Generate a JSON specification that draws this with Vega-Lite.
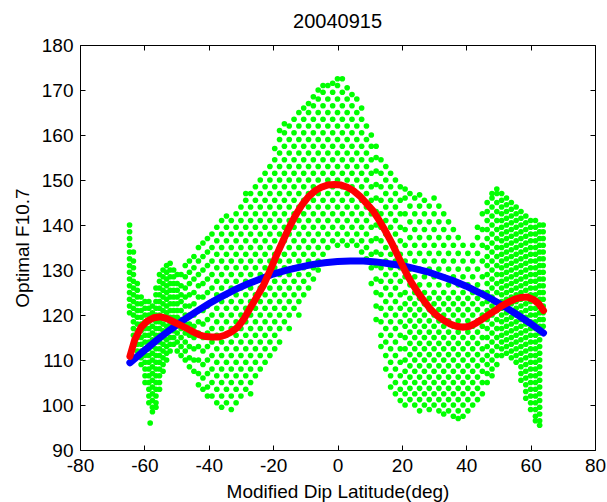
{
"$schema":"https://vega.github.io/schema/vega-lite/v6.json",
"width":515,"height":405,
"autosize":{"type":"none"},
"padding":{"left":80,"top":45,"right":12,"bottom":52},
"background":"white",
"title":{"text":"20040915","fontSize":20,"font":"Liberation Sans","fontWeight":"normal","color":"black","baseline":"alphabetic","offset":-12},
"config":{"view":{"stroke":null},
"axis":{"labelFont":"Liberation Sans","titleFont":"Liberation Sans","labelFontSize":19,"titleFontSize":19,"titleFontWeight":"normal","labelColor":"#000","titleColor":"#000","domainColor":"#000","tickColor":"#000","tickSize":-5,"grid":false,"labelFlush":false,"labelOverlap":false,"labelExpr":"'' + datum.value"}},
"datasets":{
"blue":[{"x":-64.5,"y":109.4},{"x":-60,"y":112.1},{"x":-56,"y":114.5},{"x":-52,"y":116.7},{"x":-48,"y":118.8},{"x":-44,"y":120.7},{"x":-40,"y":122.5},{"x":-36,"y":124.1},{"x":-32,"y":125.6},{"x":-28,"y":126.9},{"x":-24,"y":128.0},{"x":-20,"y":129.1},{"x":-16,"y":129.9},{"x":-12,"y":130.6},{"x":-8,"y":131.2},{"x":-4,"y":131.6},{"x":0,"y":131.9},{"x":4,"y":132.0},{"x":8,"y":132.0},{"x":12,"y":131.8},{"x":16,"y":131.4},{"x":20,"y":131.0},{"x":24,"y":130.3},{"x":28,"y":129.6},{"x":32,"y":128.6},{"x":36,"y":127.6},{"x":40,"y":126.4},{"x":44,"y":125.0},{"x":48,"y":123.5},{"x":52,"y":121.8},{"x":56,"y":120.0},{"x":60,"y":118.1},{"x":64,"y":116.0}],
"red":[{"x":-64.5,"y":110.8},{"x":-63,"y":114.5},{"x":-61,"y":117.3},{"x":-59,"y":118.7},{"x":-57,"y":119.4},{"x":-55,"y":119.6},{"x":-53,"y":119.2},{"x":-51,"y":118.5},{"x":-49,"y":117.8},{"x":-47,"y":117.1},{"x":-45,"y":116.3},{"x":-43,"y":115.6},{"x":-41,"y":115.2},{"x":-39,"y":115.1},{"x":-37,"y":115.1},{"x":-35,"y":115.5},{"x":-33,"y":116.2},{"x":-31,"y":117.3},{"x":-29,"y":119.2},{"x":-27,"y":121.7},{"x":-25,"y":124.1},{"x":-23,"y":126.6},{"x":-21,"y":129.8},{"x":-19,"y":133.2},{"x":-17,"y":136.4},{"x":-15,"y":139.5},{"x":-13,"y":142.2},{"x":-11,"y":144.5},{"x":-9,"y":146.3},{"x":-7,"y":147.6},{"x":-5,"y":148.4},{"x":-3,"y":148.9},{"x":-1,"y":149.0},{"x":1,"y":148.9},{"x":3,"y":148.4},{"x":5,"y":147.6},{"x":7,"y":146.4},{"x":9,"y":144.8},{"x":11,"y":143.2},{"x":13,"y":141.0},{"x":15,"y":138.5},{"x":17,"y":135.8},{"x":19,"y":132.8},{"x":21,"y":129.8},{"x":23,"y":127.2},{"x":25,"y":125.0},{"x":27,"y":123.0},{"x":29,"y":121.2},{"x":31,"y":119.8},{"x":33,"y":118.8},{"x":35,"y":118.0},{"x":37,"y":117.5},{"x":39,"y":117.3},{"x":41,"y":117.5},{"x":43,"y":118.2},{"x":45,"y":119.1},{"x":47,"y":120.1},{"x":49,"y":121.0},{"x":51,"y":122.0},{"x":53,"y":122.8},{"x":55,"y":123.5},{"x":57,"y":123.9},{"x":59,"y":124.0},{"x":61,"y":123.4},{"x":62.5,"y":122.5},{"x":64,"y":121.0}],
"pts":[
{"x":-64.6,"y":140},{"x":-64.6,"y":138.5},{"x":-64.6,"y":137},{"x":-64.6,"y":135.5},{"x":-64.6,"y":134},{"x":-64.6,"y":132.5},{"x":-64.6,"y":131},{"x":-64.6,"y":129.5},{"x":-64.6,"y":128},{"x":-64.6,"y":126.5},{"x":-64.6,"y":125},{"x":-64.6,"y":123.5},{"x":-64.6,"y":122},{"x":-64.6,"y":120.5},
{"x":-63.4,"y":134},{"x":-63.4,"y":132},{"x":-63.4,"y":130.5},{"x":-63.4,"y":129},{"x":-63.4,"y":127.5},{"x":-63.4,"y":126},{"x":-63.4,"y":124.5},{"x":-63.4,"y":123},{"x":-63.4,"y":121.5},{"x":-63.4,"y":120},{"x":-63.4,"y":118.5},{"x":-63.4,"y":117},{"x":-63.4,"y":115.5},
{"x":-62.2,"y":127},{"x":-62.2,"y":125.5},{"x":-62.2,"y":124},{"x":-62.2,"y":122.5},{"x":-62.2,"y":121},{"x":-62.2,"y":119.5},{"x":-62.2,"y":118},{"x":-62.2,"y":116.5},{"x":-62.2,"y":115},{"x":-62.2,"y":113.5},{"x":-62.2,"y":112},
{"x":-61,"y":124},{"x":-61,"y":122.5},{"x":-61,"y":121},{"x":-61,"y":119.5},{"x":-61,"y":118},{"x":-61,"y":116.5},{"x":-61,"y":115},{"x":-61,"y":113.5},{"x":-61,"y":112},{"x":-61,"y":110.5},{"x":-61,"y":109},
{"x":-59.8,"y":123},{"x":-59.8,"y":121.5},{"x":-59.8,"y":120},{"x":-59.8,"y":118.5},{"x":-59.8,"y":117},{"x":-59.8,"y":115.5},{"x":-59.8,"y":114},{"x":-59.8,"y":112.5},{"x":-59.8,"y":111},{"x":-59.8,"y":109.5},{"x":-59.8,"y":108},{"x":-59.8,"y":106.5},{"x":-59.8,"y":105},
{"x":-58.6,"y":123},{"x":-58.6,"y":121.5},{"x":-58.6,"y":120},{"x":-58.6,"y":118.5},{"x":-58.6,"y":117},{"x":-58.6,"y":115.5},{"x":-58.6,"y":114},{"x":-58.6,"y":112.5},{"x":-58.6,"y":111},{"x":-58.6,"y":109.5},{"x":-58.6,"y":108},{"x":-58.6,"y":106.5},{"x":-58.6,"y":105},{"x":-58.6,"y":103.5},{"x":-58.6,"y":102},{"x":-58.6,"y":100.5},
{"x":-57.5,"y":122},{"x":-57.5,"y":120.5},{"x":-57.5,"y":119},{"x":-57.5,"y":117.5},{"x":-57.5,"y":116},{"x":-57.5,"y":114.5},{"x":-57.5,"y":113},{"x":-57.5,"y":111.5},{"x":-57.5,"y":110},{"x":-57.5,"y":108.5},{"x":-57.5,"y":107},{"x":-57.5,"y":105.5},{"x":-57.5,"y":104},{"x":-57.5,"y":102.5},{"x":-57.5,"y":101},{"x":-57.5,"y":99.5},{"x":-57.5,"y":98.5},{"x":-58.2,"y":96},
{"x":-56.4,"y":126},{"x":-56.4,"y":124.5},{"x":-56.4,"y":123},{"x":-56.4,"y":121.5},{"x":-56.4,"y":120},{"x":-56.4,"y":118.5},{"x":-56.4,"y":117},{"x":-56.4,"y":115.5},{"x":-56.4,"y":114},{"x":-56.4,"y":112.5},{"x":-56.4,"y":111},{"x":-56.4,"y":109.5},{"x":-56.4,"y":108},{"x":-56.4,"y":106.5},{"x":-56.4,"y":105},{"x":-56.4,"y":103.5},{"x":-56.4,"y":102},{"x":-56.4,"y":100.5},{"x":-56.4,"y":99.5},
{"x":-55.3,"y":129},{"x":-55.3,"y":127.5},{"x":-55.3,"y":126},{"x":-55.3,"y":124.5},{"x":-55.3,"y":123},{"x":-55.3,"y":121.5},{"x":-55.3,"y":120},{"x":-55.3,"y":118.5},{"x":-55.3,"y":117},{"x":-55.3,"y":115.5},{"x":-55.3,"y":114},{"x":-55.3,"y":112.5},{"x":-55.3,"y":111},{"x":-55.3,"y":109.5},{"x":-55.3,"y":108},{"x":-55.3,"y":106.5},{"x":-55.3,"y":105},{"x":-55.3,"y":103.5},
{"x":-54.2,"y":130},{"x":-54.2,"y":128.5},{"x":-54.2,"y":127},{"x":-54.2,"y":125.5},{"x":-54.2,"y":124},{"x":-54.2,"y":122.5},{"x":-54.2,"y":121},{"x":-54.2,"y":119.5},{"x":-54.2,"y":118},{"x":-54.2,"y":116.5},{"x":-54.2,"y":115},{"x":-54.2,"y":113.5},{"x":-54.2,"y":112},{"x":-54.2,"y":110.5},{"x":-54.2,"y":109},{"x":-54.2,"y":107.5},
{"x":-53.1,"y":131},{"x":-53.1,"y":129.5},{"x":-53.1,"y":128},{"x":-53.1,"y":126.5},{"x":-53.1,"y":125},{"x":-53.1,"y":123.5},{"x":-53.1,"y":122},{"x":-53.1,"y":120.5},{"x":-53.1,"y":119},{"x":-53.1,"y":117.5},{"x":-53.1,"y":116},{"x":-53.1,"y":114.5},{"x":-53.1,"y":113},{"x":-53.1,"y":111.5},{"x":-53.1,"y":110},
{"x":-52,"y":131.5},{"x":-52,"y":130},{"x":-52,"y":128.5},{"x":-52,"y":127},{"x":-52,"y":125.5},{"x":-52,"y":124},{"x":-52,"y":122.5},{"x":-52,"y":121},{"x":-52,"y":119.5},{"x":-52,"y":118},{"x":-52,"y":116.5},{"x":-52,"y":115},{"x":-52,"y":113.5},{"x":-52,"y":112},
{"x":-50.9,"y":130},{"x":-50.9,"y":128.5},{"x":-50.9,"y":127},{"x":-50.9,"y":125.5},{"x":-50.9,"y":124},{"x":-50.9,"y":122.5},{"x":-50.9,"y":121},{"x":-50.9,"y":119.5},{"x":-50.9,"y":118},{"x":-50.9,"y":116.5},{"x":-50.9,"y":115},{"x":-50.9,"y":113.5},
{"x":-49.8,"y":129},{"x":-49.8,"y":127},{"x":-49.8,"y":125.5},{"x":-49.8,"y":124},{"x":-49.8,"y":122.5},{"x":-49.8,"y":121},{"x":-49.8,"y":119.5},{"x":-49.8,"y":118},{"x":-49.8,"y":116},{"x":-49.8,"y":114},{"x":-49.8,"y":112},
{"x":-48.6,"y":129},{"x":-48.6,"y":126.5},{"x":-48.6,"y":124.5},{"x":-48.6,"y":123},{"x":-48.6,"y":121},{"x":-48.6,"y":119},{"x":-48.6,"y":117},{"x":-48.6,"y":115},{"x":-48.6,"y":113},{"x":-48.6,"y":111},
{"x":-47.3,"y":131},{"x":-47.3,"y":128.5},{"x":-47.3,"y":126},{"x":-47.3,"y":124},{"x":-47.3,"y":122},{"x":-47.3,"y":120},{"x":-47.3,"y":118},{"x":-47.3,"y":116},{"x":-47.3,"y":114},{"x":-47.3,"y":112},{"x":-47.3,"y":110},
{"x":-46,"y":132},{"x":-46,"y":129.5},{"x":-46,"y":127},{"x":-46,"y":124.5},{"x":-46,"y":122},{"x":-46,"y":120},{"x":-46,"y":118},{"x":-46,"y":115.5},{"x":-46,"y":113},{"x":-46,"y":110.5},{"x":-46,"y":108.5},
{"x":-44.6,"y":133},{"x":-44.6,"y":130.5},{"x":-44.6,"y":128},{"x":-44.6,"y":125},{"x":-44.6,"y":122.5},{"x":-44.6,"y":120},{"x":-44.6,"y":117.5},{"x":-44.6,"y":115},{"x":-44.6,"y":112.5},{"x":-44.6,"y":110},{"x":-44.6,"y":107.5},
{"x":-43.2,"y":135},{"x":-43.2,"y":132},{"x":-43.2,"y":129},{"x":-43.2,"y":126.5},{"x":-43.2,"y":124},{"x":-43.2,"y":121},{"x":-43.2,"y":118.5},{"x":-43.2,"y":116},{"x":-43.2,"y":113},{"x":-43.2,"y":110},{"x":-43.2,"y":107},{"x":-43.2,"y":104.5},
{"x":-41.8,"y":136},{"x":-41.8,"y":133},{"x":-41.8,"y":130},{"x":-41.8,"y":127},{"x":-41.8,"y":124},{"x":-41.8,"y":121},{"x":-41.8,"y":118},{"x":-41.8,"y":115},{"x":-41.8,"y":112},{"x":-41.8,"y":109},{"x":-41.8,"y":106},{"x":-41.8,"y":103.5},
{"x":-40.4,"y":137},{"x":-40.4,"y":134},{"x":-40.4,"y":131},{"x":-40.4,"y":128},{"x":-40.4,"y":125},{"x":-40.4,"y":122},{"x":-40.4,"y":119},{"x":-40.4,"y":116},{"x":-40.4,"y":113},{"x":-40.4,"y":110},{"x":-40.4,"y":107},{"x":-40.4,"y":104},{"x":-40.4,"y":102},
{"x":-39,"y":102},{"x":-39,"y":105},{"x":-39,"y":108},{"x":-39,"y":111},{"x":-39,"y":114},{"x":-39,"y":117},{"x":-39,"y":120},{"x":-39,"y":123},{"x":-39,"y":126},{"x":-39,"y":129},{"x":-39,"y":132},{"x":-39,"y":135},{"x":-39,"y":138},
{"x":-37.5,"y":100.5},{"x":-37.5,"y":103.5},{"x":-37.5,"y":106.5},{"x":-37.5,"y":109.5},{"x":-37.5,"y":112.5},{"x":-37.5,"y":115.5},{"x":-37.5,"y":118.5},{"x":-37.5,"y":121.5},{"x":-37.5,"y":124.5},{"x":-37.5,"y":127.5},{"x":-37.5,"y":130.5},{"x":-37.5,"y":133.5},{"x":-37.5,"y":136.5},{"x":-37.5,"y":139.5},
{"x":-36,"y":99.5},{"x":-36,"y":102},{"x":-36,"y":105},{"x":-36,"y":108},{"x":-36,"y":111},{"x":-36,"y":114},{"x":-36,"y":117},{"x":-36,"y":120},{"x":-36,"y":123},{"x":-36,"y":126},{"x":-36,"y":129},{"x":-36,"y":132},{"x":-36,"y":135},{"x":-36,"y":138},{"x":-36,"y":141},
{"x":-34.5,"y":100.5},{"x":-34.5,"y":103.5},{"x":-34.5,"y":106.5},{"x":-34.5,"y":109.5},{"x":-34.5,"y":112.5},{"x":-34.5,"y":115.5},{"x":-34.5,"y":118.5},{"x":-34.5,"y":121.5},{"x":-34.5,"y":124.5},{"x":-34.5,"y":127.5},{"x":-34.5,"y":130.5},{"x":-34.5,"y":133.5},{"x":-34.5,"y":136.5},{"x":-34.5,"y":139.5},{"x":-34.5,"y":142},
{"x":-33,"y":99},{"x":-33,"y":102},{"x":-33,"y":105},{"x":-33,"y":108},{"x":-33,"y":111},{"x":-33,"y":114},{"x":-33,"y":117},{"x":-33,"y":120},{"x":-33,"y":123},{"x":-33,"y":126},{"x":-33,"y":129},{"x":-33,"y":132},{"x":-33,"y":135},{"x":-33,"y":138},{"x":-33,"y":141},
{"x":-31.5,"y":100.5},{"x":-31.5,"y":103.5},{"x":-31.5,"y":106.5},{"x":-31.5,"y":109.5},{"x":-31.5,"y":112.5},{"x":-31.5,"y":115.5},{"x":-31.5,"y":118.5},{"x":-31.5,"y":121.5},{"x":-31.5,"y":124.5},{"x":-31.5,"y":127.5},{"x":-31.5,"y":130.5},{"x":-31.5,"y":133.5},{"x":-31.5,"y":136.5},{"x":-31.5,"y":139.5},{"x":-31.5,"y":142.5},
{"x":-30,"y":102},{"x":-30,"y":105},{"x":-30,"y":108},{"x":-30,"y":111},{"x":-30,"y":114},{"x":-30,"y":117},{"x":-30,"y":120},{"x":-30,"y":123},{"x":-30,"y":126},{"x":-30,"y":129},{"x":-30,"y":132},{"x":-30,"y":135},{"x":-30,"y":138},{"x":-30,"y":141},{"x":-30,"y":144},
{"x":-28.5,"y":103.5},{"x":-28.5,"y":106.5},{"x":-28.5,"y":109.5},{"x":-28.5,"y":112.5},{"x":-28.5,"y":115.5},{"x":-28.5,"y":118.5},{"x":-28.5,"y":121.5},{"x":-28.5,"y":124.5},{"x":-28.5,"y":127.5},{"x":-28.5,"y":130.5},{"x":-28.5,"y":133.5},{"x":-28.5,"y":136.5},{"x":-28.5,"y":139.5},{"x":-28.5,"y":142.5},{"x":-28.5,"y":145.5},{"x":-28.5,"y":147},
{"x":-27,"y":102.5},{"x":-27,"y":105},{"x":-27,"y":108},{"x":-27,"y":111},{"x":-27,"y":114},{"x":-27,"y":117},{"x":-27,"y":120},{"x":-27,"y":123},{"x":-27,"y":126},{"x":-27,"y":129},{"x":-27,"y":132},{"x":-27,"y":135},{"x":-27,"y":138},{"x":-27,"y":141},{"x":-27,"y":144},{"x":-27,"y":147},
{"x":-25.5,"y":106.5},{"x":-25.5,"y":109.5},{"x":-25.5,"y":112.5},{"x":-25.5,"y":115.5},{"x":-25.5,"y":118.5},{"x":-25.5,"y":121.5},{"x":-25.5,"y":124.5},{"x":-25.5,"y":127.5},{"x":-25.5,"y":130.5},{"x":-25.5,"y":133.5},{"x":-25.5,"y":136.5},{"x":-25.5,"y":139.5},{"x":-25.5,"y":142.5},{"x":-25.5,"y":145.5},{"x":-25.5,"y":148.5},
{"x":-24,"y":108},{"x":-24,"y":111},{"x":-24,"y":114},{"x":-24,"y":117},{"x":-24,"y":120},{"x":-24,"y":123},{"x":-24,"y":126},{"x":-24,"y":129},{"x":-24,"y":132},{"x":-24,"y":135},{"x":-24,"y":138},{"x":-24,"y":141},{"x":-24,"y":144},{"x":-24,"y":147},{"x":-24,"y":150},
{"x":-22.5,"y":109.5},{"x":-22.5,"y":112.5},{"x":-22.5,"y":115.5},{"x":-22.5,"y":118.5},{"x":-22.5,"y":121.5},{"x":-22.5,"y":124.5},{"x":-22.5,"y":127.5},{"x":-22.5,"y":130.5},{"x":-22.5,"y":133.5},{"x":-22.5,"y":136.5},{"x":-22.5,"y":139.5},{"x":-22.5,"y":142.5},{"x":-22.5,"y":145.5},{"x":-22.5,"y":148.5},{"x":-22.5,"y":151.5},
{"x":-21,"y":111},{"x":-21,"y":114},{"x":-21,"y":117},{"x":-21,"y":120},{"x":-21,"y":123},{"x":-21,"y":126},{"x":-21,"y":129},{"x":-21,"y":132},{"x":-21,"y":135},{"x":-21,"y":138},{"x":-21,"y":141},{"x":-21,"y":144},{"x":-21,"y":147},{"x":-21,"y":150},{"x":-21,"y":153},
{"x":-19.5,"y":112.5},{"x":-19.5,"y":115.5},{"x":-19.5,"y":118.5},{"x":-19.5,"y":121.5},{"x":-19.5,"y":124.5},{"x":-19.5,"y":127.5},{"x":-19.5,"y":130.5},{"x":-19.5,"y":133.5},{"x":-19.5,"y":136.5},{"x":-19.5,"y":139.5},{"x":-19.5,"y":142.5},{"x":-19.5,"y":145.5},{"x":-19.5,"y":148.5},{"x":-19.5,"y":151.5},{"x":-19.5,"y":154.5},{"x":-19.5,"y":157},
{"x":-18,"y":114},{"x":-18,"y":117},{"x":-18,"y":120},{"x":-18,"y":123},{"x":-18,"y":126},{"x":-18,"y":129},{"x":-18,"y":132},{"x":-18,"y":135},{"x":-18,"y":138},{"x":-18,"y":141},{"x":-18,"y":144},{"x":-18,"y":147},{"x":-18,"y":150},{"x":-18,"y":153},{"x":-18,"y":156},{"x":-18,"y":159},{"x":-18,"y":161},
{"x":-16.5,"y":118.5},{"x":-16.5,"y":121.5},{"x":-16.5,"y":124.5},{"x":-16.5,"y":127.5},{"x":-16.5,"y":130.5},{"x":-16.5,"y":133.5},{"x":-16.5,"y":136.5},{"x":-16.5,"y":139.5},{"x":-16.5,"y":142.5},{"x":-16.5,"y":145.5},{"x":-16.5,"y":148.5},{"x":-16.5,"y":151.5},{"x":-16.5,"y":154.5},{"x":-16.5,"y":157.5},{"x":-16.5,"y":160.5},{"x":-16.5,"y":162.5},
{"x":-15,"y":117},{"x":-15,"y":120},{"x":-15,"y":123},{"x":-15,"y":126},{"x":-15,"y":129},{"x":-15,"y":132},{"x":-15,"y":135},{"x":-15,"y":138},{"x":-15,"y":141},{"x":-15,"y":144},{"x":-15,"y":147},{"x":-15,"y":150},{"x":-15,"y":153},{"x":-15,"y":156},{"x":-15,"y":159},{"x":-15,"y":162},
{"x":-13.5,"y":121.5},{"x":-13.5,"y":124.5},{"x":-13.5,"y":127.5},{"x":-13.5,"y":130.5},{"x":-13.5,"y":133.5},{"x":-13.5,"y":136.5},{"x":-13.5,"y":139.5},{"x":-13.5,"y":142.5},{"x":-13.5,"y":145.5},{"x":-13.5,"y":148.5},{"x":-13.5,"y":151.5},{"x":-13.5,"y":154.5},{"x":-13.5,"y":157.5},{"x":-13.5,"y":160.5},{"x":-13.5,"y":163.5},
{"x":-12,"y":120},{"x":-12,"y":123},{"x":-12,"y":126},{"x":-12,"y":129},{"x":-12,"y":132},{"x":-12,"y":135},{"x":-12,"y":138},{"x":-12,"y":141},{"x":-12,"y":144},{"x":-12,"y":147},{"x":-12,"y":150},{"x":-12,"y":153},{"x":-12,"y":156},{"x":-12,"y":159},{"x":-12,"y":162},{"x":-12,"y":165},
{"x":-10.5,"y":124.5},{"x":-10.5,"y":127.5},{"x":-10.5,"y":130.5},{"x":-10.5,"y":133.5},{"x":-10.5,"y":136.5},{"x":-10.5,"y":139.5},{"x":-10.5,"y":142.5},{"x":-10.5,"y":145.5},{"x":-10.5,"y":148.5},{"x":-10.5,"y":151.5},{"x":-10.5,"y":154.5},{"x":-10.5,"y":157.5},{"x":-10.5,"y":160.5},{"x":-10.5,"y":163.5},{"x":-10.5,"y":166},
{"x":-9,"y":126},{"x":-9,"y":129},{"x":-9,"y":132},{"x":-9,"y":135},{"x":-9,"y":138},{"x":-9,"y":141},{"x":-9,"y":144},{"x":-9,"y":147},{"x":-9,"y":150},{"x":-9,"y":153},{"x":-9,"y":156},{"x":-9,"y":159},{"x":-9,"y":162},{"x":-9,"y":165},{"x":-9,"y":167},
{"x":-7.5,"y":128},{"x":-7.5,"y":130.5},{"x":-7.5,"y":133.5},{"x":-7.5,"y":136.5},{"x":-7.5,"y":139.5},{"x":-7.5,"y":142.5},{"x":-7.5,"y":145.5},{"x":-7.5,"y":148.5},{"x":-7.5,"y":151.5},{"x":-7.5,"y":154.5},{"x":-7.5,"y":157.5},{"x":-7.5,"y":160.5},{"x":-7.5,"y":163.5},{"x":-7.5,"y":166.5},{"x":-7.5,"y":168.5},
{"x":-6,"y":130},{"x":-6,"y":132},{"x":-6,"y":135},{"x":-6,"y":138},{"x":-6,"y":141},{"x":-6,"y":144},{"x":-6,"y":147},{"x":-6,"y":150},{"x":-6,"y":153},{"x":-6,"y":156},{"x":-6,"y":159},{"x":-6,"y":162},{"x":-6,"y":165},{"x":-6,"y":168},{"x":-6,"y":170},
{"x":-4.5,"y":133.5},{"x":-4.5,"y":136.5},{"x":-4.5,"y":139.5},{"x":-4.5,"y":142.5},{"x":-4.5,"y":145.5},{"x":-4.5,"y":148.5},{"x":-4.5,"y":151.5},{"x":-4.5,"y":154.5},{"x":-4.5,"y":157.5},{"x":-4.5,"y":160.5},{"x":-4.5,"y":163.5},{"x":-4.5,"y":166.5},{"x":-4.5,"y":169.5},{"x":-4.5,"y":171},
{"x":-3,"y":135},{"x":-3,"y":138},{"x":-3,"y":141},{"x":-3,"y":144},{"x":-3,"y":147},{"x":-3,"y":150},{"x":-3,"y":153},{"x":-3,"y":156},{"x":-3,"y":159},{"x":-3,"y":162},{"x":-3,"y":165},{"x":-3,"y":168},{"x":-3,"y":171},
{"x":-1.5,"y":136.5},{"x":-1.5,"y":139.5},{"x":-1.5,"y":142.5},{"x":-1.5,"y":145.5},{"x":-1.5,"y":148.5},{"x":-1.5,"y":151.5},{"x":-1.5,"y":154.5},{"x":-1.5,"y":157.5},{"x":-1.5,"y":160.5},{"x":-1.5,"y":163.5},{"x":-1.5,"y":166.5},{"x":-1.5,"y":169.5},{"x":-1.5,"y":171.5},
{"x":0,"y":135.5},{"x":0,"y":138},{"x":0,"y":141},{"x":0,"y":144},{"x":0,"y":147},{"x":0,"y":150},{"x":0,"y":153},{"x":0,"y":156},{"x":0,"y":159},{"x":0,"y":162},{"x":0,"y":165},{"x":0,"y":168},{"x":0,"y":171},{"x":0,"y":172.5},
{"x":1.5,"y":136.5},{"x":1.5,"y":139.5},{"x":1.5,"y":142.5},{"x":1.5,"y":145.5},{"x":1.5,"y":148.5},{"x":1.5,"y":151.5},{"x":1.5,"y":154.5},{"x":1.5,"y":157.5},{"x":1.5,"y":160.5},{"x":1.5,"y":163.5},{"x":1.5,"y":166.5},{"x":1.5,"y":169.5},{"x":1.5,"y":172.5},
{"x":3,"y":135.5},{"x":3,"y":138},{"x":3,"y":141},{"x":3,"y":144},{"x":3,"y":147},{"x":3,"y":150},{"x":3,"y":153},{"x":3,"y":156},{"x":3,"y":159},{"x":3,"y":162},{"x":3,"y":165},{"x":3,"y":168},{"x":3,"y":170.5},
{"x":4.5,"y":136.5},{"x":4.5,"y":139.5},{"x":4.5,"y":142.5},{"x":4.5,"y":145.5},{"x":4.5,"y":148.5},{"x":4.5,"y":151.5},{"x":4.5,"y":154.5},{"x":4.5,"y":157.5},{"x":4.5,"y":160.5},{"x":4.5,"y":163.5},{"x":4.5,"y":166.5},{"x":4.5,"y":169},
{"x":6,"y":135.5},{"x":6,"y":138},{"x":6,"y":141},{"x":6,"y":144},{"x":6,"y":147},{"x":6,"y":150},{"x":6,"y":153},{"x":6,"y":156},{"x":6,"y":159},{"x":6,"y":162},{"x":6,"y":165},{"x":6,"y":168},
{"x":7.5,"y":134},{"x":7.5,"y":136.5},{"x":7.5,"y":139.5},{"x":7.5,"y":142.5},{"x":7.5,"y":145.5},{"x":7.5,"y":148.5},{"x":7.5,"y":151.5},{"x":7.5,"y":154.5},{"x":7.5,"y":157.5},{"x":7.5,"y":160.5},{"x":7.5,"y":163.5},{"x":7.5,"y":166},
{"x":9,"y":132.5},{"x":9,"y":135},{"x":9,"y":138},{"x":9,"y":141},{"x":9,"y":144},{"x":9,"y":147},{"x":9,"y":150},{"x":9,"y":153},{"x":9,"y":156},{"x":9,"y":159},{"x":9,"y":162},
{"x":10.5,"y":127},{"x":10.5,"y":130.5},{"x":10.5,"y":133.5},{"x":10.5,"y":136.5},{"x":10.5,"y":139.5},{"x":10.5,"y":142.5},{"x":10.5,"y":145.5},{"x":10.5,"y":148.5},{"x":10.5,"y":151.5},{"x":10.5,"y":154.5},{"x":10.5,"y":157.5},{"x":10.5,"y":160},
{"x":12,"y":119},{"x":12,"y":122},{"x":12,"y":125},{"x":12,"y":128},{"x":12,"y":131},{"x":12,"y":134},{"x":12,"y":137},{"x":12,"y":140},{"x":12,"y":143},{"x":12,"y":146},{"x":12,"y":149},{"x":12,"y":152},{"x":12,"y":155},{"x":12,"y":157.5},
{"x":13.5,"y":113},{"x":13.5,"y":115.5},{"x":13.5,"y":118.5},{"x":13.5,"y":121.5},{"x":13.5,"y":124.5},{"x":13.5,"y":127.5},{"x":13.5,"y":130.5},{"x":13.5,"y":133.5},{"x":13.5,"y":136.5},{"x":13.5,"y":139.5},{"x":13.5,"y":142.5},{"x":13.5,"y":145.5},{"x":13.5,"y":148.5},{"x":13.5,"y":151.5},{"x":13.5,"y":154.5},
{"x":15,"y":108},{"x":15,"y":111},{"x":15,"y":114},{"x":15,"y":117},{"x":15,"y":120},{"x":15,"y":123},{"x":15,"y":126},{"x":15,"y":129},{"x":15,"y":132},{"x":15,"y":135},{"x":15,"y":138},{"x":15,"y":141},{"x":15,"y":144},{"x":15,"y":147},{"x":15,"y":150},{"x":15,"y":153},
{"x":16.5,"y":104},{"x":16.5,"y":106.5},{"x":16.5,"y":109.5},{"x":16.5,"y":112.5},{"x":16.5,"y":115.5},{"x":16.5,"y":118.5},{"x":16.5,"y":121.5},{"x":16.5,"y":124.5},{"x":16.5,"y":127.5},{"x":16.5,"y":130.5},{"x":16.5,"y":133.5},{"x":16.5,"y":136.5},{"x":16.5,"y":139.5},{"x":16.5,"y":142.5},{"x":16.5,"y":145.5},{"x":16.5,"y":148.5},{"x":16.5,"y":151.5},
{"x":18,"y":102.5},{"x":18,"y":105},{"x":18,"y":108},{"x":18,"y":111},{"x":18,"y":114},{"x":18,"y":117},{"x":18,"y":120},{"x":18,"y":123},{"x":18,"y":126},{"x":18,"y":129},{"x":18,"y":132},{"x":18,"y":135},{"x":18,"y":138},{"x":18,"y":141},{"x":18,"y":144},{"x":18,"y":147},{"x":18,"y":150},
{"x":19.5,"y":101},{"x":19.5,"y":103.5},{"x":19.5,"y":106.5},{"x":19.5,"y":109.5},{"x":19.5,"y":112.5},{"x":19.5,"y":115.5},{"x":19.5,"y":118.5},{"x":19.5,"y":121.5},{"x":19.5,"y":124.5},{"x":19.5,"y":127.5},{"x":19.5,"y":130.5},{"x":19.5,"y":133.5},{"x":19.5,"y":136.5},{"x":19.5,"y":139.5},{"x":19.5,"y":142.5},{"x":19.5,"y":145.5},{"x":19.5,"y":148.5},
{"x":21,"y":100},{"x":21,"y":102.5},{"x":21,"y":105},{"x":21,"y":107.5},{"x":21,"y":110},{"x":21,"y":112.5},{"x":21,"y":115},{"x":21,"y":117.5},{"x":21,"y":120},{"x":21,"y":122.5},{"x":21,"y":125},{"x":21,"y":128.5},{"x":21,"y":132},{"x":21,"y":135.5},{"x":21,"y":139},{"x":21,"y":142.5},{"x":21,"y":146},{"x":21,"y":148},
{"x":22.5,"y":101.2},{"x":22.5,"y":103.7},{"x":22.5,"y":106.2},{"x":22.5,"y":108.7},{"x":22.5,"y":111.2},{"x":22.5,"y":113.7},{"x":22.5,"y":116.2},{"x":22.5,"y":118.7},{"x":22.5,"y":121.2},{"x":22.5,"y":123.7},{"x":22.5,"y":126.7},{"x":22.5,"y":130.2},{"x":22.5,"y":133.7},{"x":22.5,"y":137.2},{"x":22.5,"y":140.7},{"x":22.5,"y":144.2},{"x":22.5,"y":147},
{"x":24,"y":100},{"x":24,"y":102.5},{"x":24,"y":105},{"x":24,"y":107.5},{"x":24,"y":110},{"x":24,"y":112.5},{"x":24,"y":115},{"x":24,"y":117.5},{"x":24,"y":120},{"x":24,"y":122.5},{"x":24,"y":125},{"x":24,"y":128.5},{"x":24,"y":132},{"x":24,"y":135.5},{"x":24,"y":139},{"x":24,"y":142.5},{"x":24,"y":146},
{"x":25.5,"y":98.7},{"x":25.5,"y":101.2},{"x":25.5,"y":103.7},{"x":25.5,"y":106.2},{"x":25.5,"y":108.7},{"x":25.5,"y":111.2},{"x":25.5,"y":113.7},{"x":25.5,"y":116.2},{"x":25.5,"y":118.7},{"x":25.5,"y":121.2},{"x":25.5,"y":123.7},{"x":25.5,"y":126.7},{"x":25.5,"y":130.2},{"x":25.5,"y":133.7},{"x":25.5,"y":137.2},{"x":25.5,"y":140.7},{"x":25.5,"y":144.2},{"x":25.5,"y":146.7},
{"x":27,"y":100},{"x":27,"y":102.5},{"x":27,"y":105},{"x":27,"y":107.5},{"x":27,"y":110},{"x":27,"y":112.5},{"x":27,"y":115},{"x":27,"y":117.5},{"x":27,"y":120},{"x":27,"y":122.5},{"x":27,"y":125},{"x":27,"y":128.5},{"x":27,"y":132},{"x":27,"y":135.5},{"x":27,"y":139},{"x":27,"y":142.5},{"x":27,"y":145.5},
{"x":28.5,"y":99},{"x":28.5,"y":101.2},{"x":28.5,"y":103.7},{"x":28.5,"y":106.2},{"x":28.5,"y":108.7},{"x":28.5,"y":111.2},{"x":28.5,"y":113.7},{"x":28.5,"y":116.2},{"x":28.5,"y":118.7},{"x":28.5,"y":121.2},{"x":28.5,"y":123.7},{"x":28.5,"y":126.7},{"x":28.5,"y":130.2},{"x":28.5,"y":133.7},{"x":28.5,"y":137.2},{"x":28.5,"y":140.7},{"x":28.5,"y":144.2},
{"x":30,"y":100},{"x":30,"y":102.5},{"x":30,"y":105},{"x":30,"y":107.5},{"x":30,"y":110},{"x":30,"y":112.5},{"x":30,"y":115},{"x":30,"y":117.5},{"x":30,"y":120},{"x":30,"y":122.5},{"x":30,"y":125},{"x":30,"y":128.5},{"x":30,"y":132},{"x":30,"y":135.5},{"x":30,"y":139},{"x":30,"y":142.5},{"x":30,"y":146},
{"x":31.5,"y":98.7},{"x":31.5,"y":101.2},{"x":31.5,"y":103.7},{"x":31.5,"y":106.2},{"x":31.5,"y":108.7},{"x":31.5,"y":111.2},{"x":31.5,"y":113.7},{"x":31.5,"y":116.2},{"x":31.5,"y":118.7},{"x":31.5,"y":121.2},{"x":31.5,"y":123.7},{"x":31.5,"y":126.7},{"x":31.5,"y":130.2},{"x":31.5,"y":133.7},{"x":31.5,"y":137.2},{"x":31.5,"y":140.7},{"x":31.5,"y":144.2},
{"x":33,"y":98},{"x":33,"y":100},{"x":33,"y":102.5},{"x":33,"y":105},{"x":33,"y":107.5},{"x":33,"y":110},{"x":33,"y":112.5},{"x":33,"y":115},{"x":33,"y":117.5},{"x":33,"y":120},{"x":33,"y":122.5},{"x":33,"y":125},{"x":33,"y":128.5},{"x":33,"y":132},{"x":33,"y":135.5},{"x":33,"y":139},{"x":33,"y":142.5},
{"x":34.5,"y":98.7},{"x":34.5,"y":101.2},{"x":34.5,"y":103.7},{"x":34.5,"y":106.2},{"x":34.5,"y":108.7},{"x":34.5,"y":111.2},{"x":34.5,"y":113.7},{"x":34.5,"y":116.2},{"x":34.5,"y":118.7},{"x":34.5,"y":121.2},{"x":34.5,"y":123.7},{"x":34.5,"y":126.7},{"x":34.5,"y":130.2},{"x":34.5,"y":133.7},{"x":34.5,"y":137.2},{"x":34.5,"y":140.7},
{"x":36,"y":97.5},{"x":36,"y":100},{"x":36,"y":102.5},{"x":36,"y":105},{"x":36,"y":107.5},{"x":36,"y":110},{"x":36,"y":112.5},{"x":36,"y":115},{"x":36,"y":117.5},{"x":36,"y":120},{"x":36,"y":122.5},{"x":36,"y":125},{"x":36,"y":128.5},{"x":36,"y":132},{"x":36,"y":135.5},{"x":36,"y":139},
{"x":37.5,"y":97},{"x":37.5,"y":98.7},{"x":37.5,"y":101.2},{"x":37.5,"y":103.7},{"x":37.5,"y":106.2},{"x":37.5,"y":108.7},{"x":37.5,"y":111.2},{"x":37.5,"y":113.7},{"x":37.5,"y":116.2},{"x":37.5,"y":118.7},{"x":37.5,"y":121.2},{"x":37.5,"y":123.7},{"x":37.5,"y":126.7},{"x":37.5,"y":130.2},{"x":37.5,"y":133.7},{"x":37.5,"y":137.2},
{"x":39,"y":97.5},{"x":39,"y":100},{"x":39,"y":102.5},{"x":39,"y":105},{"x":39,"y":107.5},{"x":39,"y":110},{"x":39,"y":112.5},{"x":39,"y":115},{"x":39,"y":117.5},{"x":39,"y":120},{"x":39,"y":122.5},{"x":39,"y":125},{"x":39,"y":128.5},{"x":39,"y":132},{"x":39,"y":135.5},
{"x":40.5,"y":98.7},{"x":40.5,"y":101.2},{"x":40.5,"y":103.7},{"x":40.5,"y":106.2},{"x":40.5,"y":108.7},{"x":40.5,"y":111.2},{"x":40.5,"y":113.7},{"x":40.5,"y":116.2},{"x":40.5,"y":118.7},{"x":40.5,"y":121.2},{"x":40.5,"y":123.7},{"x":40.5,"y":126.7},{"x":40.5,"y":130.2},{"x":40.5,"y":133.7},
{"x":42,"y":100},{"x":42,"y":102.5},{"x":42,"y":105},{"x":42,"y":107.5},{"x":42,"y":110},{"x":42,"y":112.5},{"x":42,"y":115},{"x":42,"y":117.5},{"x":42,"y":120},{"x":42,"y":122.5},{"x":42,"y":125},{"x":42,"y":128.5},{"x":42,"y":132},{"x":42,"y":135.5},
{"x":43.5,"y":101.2},{"x":43.5,"y":103.7},{"x":43.5,"y":106.2},{"x":43.5,"y":108.7},{"x":43.5,"y":111.2},{"x":43.5,"y":113.7},{"x":43.5,"y":116.2},{"x":43.5,"y":118.7},{"x":43.5,"y":121.2},{"x":43.5,"y":123.7},{"x":43.5,"y":126.7},{"x":43.5,"y":130.2},{"x":43.5,"y":133.7},{"x":43.5,"y":137.2},{"x":43.5,"y":139.5},
{"x":45,"y":102.5},{"x":45,"y":105},{"x":45,"y":107.5},{"x":45,"y":110},{"x":45,"y":112.5},{"x":45,"y":115},{"x":45,"y":117.5},{"x":45,"y":120},{"x":45,"y":122.5},{"x":45,"y":125},{"x":45,"y":128.5},{"x":45,"y":132},{"x":45,"y":135.5},{"x":45,"y":139},{"x":45,"y":142.5},
{"x":46.5,"y":145},{"x":46.5,"y":143},{"x":46.5,"y":141},{"x":46.5,"y":139},{"x":46.5,"y":137},{"x":46.5,"y":135},{"x":46.5,"y":133},{"x":46.5,"y":131},{"x":46.5,"y":129},{"x":46.5,"y":127},{"x":46.5,"y":125},{"x":46.5,"y":123},{"x":46.5,"y":121},{"x":46.5,"y":119},{"x":46.5,"y":117},{"x":46.5,"y":115},{"x":46.5,"y":113},{"x":46.5,"y":111},{"x":46.5,"y":109},{"x":46.5,"y":107},{"x":46.5,"y":105},
{"x":48,"y":147},{"x":48,"y":146},{"x":48,"y":144},{"x":48,"y":142},{"x":48,"y":140},{"x":48,"y":138},{"x":48,"y":136},{"x":48,"y":134},{"x":48,"y":132},{"x":48,"y":130},{"x":48,"y":128},{"x":48,"y":126},{"x":48,"y":124},{"x":48,"y":122},{"x":48,"y":120},{"x":48,"y":118},{"x":48,"y":116},{"x":48,"y":114},{"x":48,"y":112},{"x":48,"y":110},{"x":48,"y":108},{"x":48,"y":106.5},
{"x":49.5,"y":148},{"x":49.5,"y":147},{"x":49.5,"y":145},{"x":49.5,"y":143},{"x":49.5,"y":141},{"x":49.5,"y":139},{"x":49.5,"y":137},{"x":49.5,"y":135},{"x":49.5,"y":133},{"x":49.5,"y":131},{"x":49.5,"y":129},{"x":49.5,"y":127},{"x":49.5,"y":125},{"x":49.5,"y":123},{"x":49.5,"y":121},{"x":49.5,"y":119},{"x":49.5,"y":117},{"x":49.5,"y":115},{"x":49.5,"y":113},{"x":49.5,"y":111},{"x":49.5,"y":109},
{"x":51,"y":147},{"x":51,"y":145.5},{"x":51,"y":144},{"x":51,"y":142.5},{"x":51,"y":141},{"x":51,"y":139.5},{"x":51,"y":138},{"x":51,"y":136.5},{"x":51,"y":135},{"x":51,"y":133.5},{"x":51,"y":132},{"x":51,"y":130.5},{"x":51,"y":129},{"x":51,"y":127.5},{"x":51,"y":126},{"x":51,"y":124.5},{"x":51,"y":123},{"x":51,"y":121.5},{"x":51,"y":120},{"x":51,"y":118.5},{"x":51,"y":117},{"x":51,"y":115.5},{"x":51,"y":114},{"x":51,"y":112.5},{"x":51,"y":111},
{"x":52.5,"y":146},{"x":52.5,"y":144.5},{"x":52.5,"y":143},{"x":52.5,"y":141.5},{"x":52.5,"y":140},{"x":52.5,"y":138.5},{"x":52.5,"y":137},{"x":52.5,"y":135.5},{"x":52.5,"y":134},{"x":52.5,"y":132.5},{"x":52.5,"y":131},{"x":52.5,"y":129.5},{"x":52.5,"y":128},{"x":52.5,"y":126.5},{"x":52.5,"y":125},{"x":52.5,"y":123.5},{"x":52.5,"y":122},{"x":52.5,"y":120.5},{"x":52.5,"y":119},{"x":52.5,"y":117.5},{"x":52.5,"y":116},{"x":52.5,"y":114.5},{"x":52.5,"y":113},{"x":52.5,"y":111.5},
{"x":54,"y":145},{"x":54,"y":143.5},{"x":54,"y":142},{"x":54,"y":140.5},{"x":54,"y":139},{"x":54,"y":137.5},{"x":54,"y":136},{"x":54,"y":134.5},{"x":54,"y":133},{"x":54,"y":131.5},{"x":54,"y":130},{"x":54,"y":128.5},{"x":54,"y":127},{"x":54,"y":125.5},{"x":54,"y":124},{"x":54,"y":122.5},{"x":54,"y":121},{"x":54,"y":119.5},{"x":54,"y":118},{"x":54,"y":116.5},{"x":54,"y":115},{"x":54,"y":113.5},{"x":54,"y":112},{"x":54,"y":110.5},
{"x":55.5,"y":144},{"x":55.5,"y":142.5},{"x":55.5,"y":141},{"x":55.5,"y":139.5},{"x":55.5,"y":138},{"x":55.5,"y":136.5},{"x":55.5,"y":135},{"x":55.5,"y":133.5},{"x":55.5,"y":132},{"x":55.5,"y":130.5},{"x":55.5,"y":129},{"x":55.5,"y":127.5},{"x":55.5,"y":126},{"x":55.5,"y":124.5},{"x":55.5,"y":123},{"x":55.5,"y":121.5},{"x":55.5,"y":120},{"x":55.5,"y":118.5},{"x":55.5,"y":117},{"x":55.5,"y":115.5},{"x":55.5,"y":114},{"x":55.5,"y":112.5},{"x":55.5,"y":111},{"x":55.5,"y":109.5},
{"x":57,"y":143},{"x":57,"y":141.5},{"x":57,"y":140},{"x":57,"y":138.5},{"x":57,"y":137},{"x":57,"y":135.5},{"x":57,"y":134},{"x":57,"y":132.5},{"x":57,"y":131},{"x":57,"y":129.5},{"x":57,"y":128},{"x":57,"y":126.5},{"x":57,"y":125},{"x":57,"y":123.5},{"x":57,"y":122},{"x":57,"y":120.5},{"x":57,"y":119},{"x":57,"y":117.5},{"x":57,"y":116},{"x":57,"y":114.5},{"x":57,"y":113},{"x":57,"y":111.5},{"x":57,"y":110},{"x":57,"y":108.5},{"x":57,"y":107},{"x":57,"y":105.5},
{"x":58.5,"y":142},{"x":58.5,"y":140.5},{"x":58.5,"y":139},{"x":58.5,"y":137.5},{"x":58.5,"y":136},{"x":58.5,"y":134.5},{"x":58.5,"y":133},{"x":58.5,"y":131.5},{"x":58.5,"y":130},{"x":58.5,"y":128.5},{"x":58.5,"y":127},{"x":58.5,"y":125.5},{"x":58.5,"y":124},{"x":58.5,"y":122.5},{"x":58.5,"y":121},{"x":58.5,"y":119.5},{"x":58.5,"y":118},{"x":58.5,"y":116.5},{"x":58.5,"y":115},{"x":58.5,"y":113.5},{"x":58.5,"y":112},{"x":58.5,"y":110.5},{"x":58.5,"y":109},{"x":58.5,"y":107.5},{"x":58.5,"y":106},{"x":58.5,"y":104.5},{"x":58.5,"y":103},{"x":58.5,"y":101.5},
{"x":60,"y":141},{"x":60,"y":139.5},{"x":60,"y":138},{"x":60,"y":136.5},{"x":60,"y":135},{"x":60,"y":133.5},{"x":60,"y":132},{"x":60,"y":130.5},{"x":60,"y":129},{"x":60,"y":127.5},{"x":60,"y":126},{"x":60,"y":124.5},{"x":60,"y":123},{"x":60,"y":121.5},{"x":60,"y":120},{"x":60,"y":118.5},{"x":60,"y":117},{"x":60,"y":115.5},{"x":60,"y":114},{"x":60,"y":112.5},{"x":60,"y":111},{"x":60,"y":109.5},{"x":60,"y":108},{"x":60,"y":106.5},{"x":60,"y":105},{"x":60,"y":103.5},{"x":60,"y":102},{"x":60,"y":100.5},{"x":60,"y":99},
{"x":61.5,"y":141},{"x":61.5,"y":139.5},{"x":61.5,"y":138},{"x":61.5,"y":136.5},{"x":61.5,"y":135},{"x":61.5,"y":133.5},{"x":61.5,"y":132},{"x":61.5,"y":130.5},{"x":61.5,"y":129},{"x":61.5,"y":127.5},{"x":61.5,"y":126},{"x":61.5,"y":124.5},{"x":61.5,"y":123},{"x":61.5,"y":121.5},{"x":61.5,"y":120},{"x":61.5,"y":118.5},{"x":61.5,"y":117},{"x":61.5,"y":115.5},{"x":61.5,"y":114},{"x":61.5,"y":112.5},{"x":61.5,"y":111},{"x":61.5,"y":109.5},{"x":61.5,"y":108},{"x":61.5,"y":106.5},{"x":61.5,"y":105},{"x":61.5,"y":103.5},{"x":61.5,"y":102},{"x":61.5,"y":100.5},{"x":61.5,"y":99},{"x":61.5,"y":97.5},{"x":61.5,"y":96.5},
{"x":62.8,"y":140},{"x":62.8,"y":138.5},{"x":62.8,"y":137},{"x":62.8,"y":135.5},{"x":62.8,"y":134},{"x":62.8,"y":132.5},{"x":62.8,"y":131},{"x":62.8,"y":129.5},{"x":62.8,"y":128},{"x":62.8,"y":126.5},{"x":62.8,"y":125},{"x":62.8,"y":123.5},{"x":62.8,"y":122},{"x":62.8,"y":120.5},{"x":62.8,"y":119},{"x":62.8,"y":117.5},{"x":62.8,"y":116},{"x":62.8,"y":114.5},{"x":62.8,"y":113},{"x":62.8,"y":111.5},{"x":62.8,"y":110},{"x":62.8,"y":108.5},{"x":62.8,"y":107},{"x":62.8,"y":105.5},{"x":62.8,"y":104},{"x":62.8,"y":102.5},{"x":62.8,"y":101},{"x":62.8,"y":99.5},{"x":62.8,"y":98},{"x":62.8,"y":96.5},{"x":62.8,"y":95.5},
{"x":63.9,"y":140},{"x":63.9,"y":138.5},{"x":63.9,"y":137},{"x":63.9,"y":135.5},{"x":63.9,"y":134},{"x":63.9,"y":132.5},{"x":63.9,"y":131},{"x":63.9,"y":129.5},{"x":63.9,"y":128},{"x":63.9,"y":126.5},{"x":63.9,"y":125},{"x":63.9,"y":123.5},{"x":63.9,"y":122},{"x":63.9,"y":120.5},{"x":63.9,"y":119},{"x":63.9,"y":117.5}
]},
"layer":[
{"data":{"name":"pts"},"mark":{"type":"circle","size":32,"color":"#00ff00","opacity":1},
"encoding":{
"x":{"field":"x","type":"quantitative","scale":{"domain":[-80,80],"nice":false,"zero":false},"axis":{"orient":"bottom","values":[-80,-60,-40,-20,0,20,40,60,80],"title":"Modified Dip Latitude(deg)","labelPadding":11,"titlePadding":7}},
"y":{"field":"y","type":"quantitative","scale":{"domain":[90,180],"nice":false,"zero":false},"axis":{"orient":"left","values":[90,100,110,120,130,140,150,160,170,180],"title":"Optimal F10.7","labelPadding":12,"titlePadding":9}}}},
{"data":{"name":"blue"},"mark":{"type":"line","color":"#0000ff","strokeWidth":7,"strokeCap":"round"},
"encoding":{
"x":{"field":"x","type":"quantitative","axis":{"orient":"top","labels":false,"title":null,"values":[-80,-60,-40,-20,0,20,40,60,80]}},
"y":{"field":"y","type":"quantitative","axis":{"orient":"right","labels":false,"title":null,"values":[90,100,110,120,130,140,150,160,170,180]}}}},
{"data":{"name":"red"},"mark":{"type":"line","color":"#ff0000","strokeWidth":7,"strokeCap":"round"},
"encoding":{
"x":{"field":"x","type":"quantitative","axis":null},
"y":{"field":"y","type":"quantitative","axis":null}}}
],
"resolve":{"axis":{"x":"independent","y":"independent"}}
}
